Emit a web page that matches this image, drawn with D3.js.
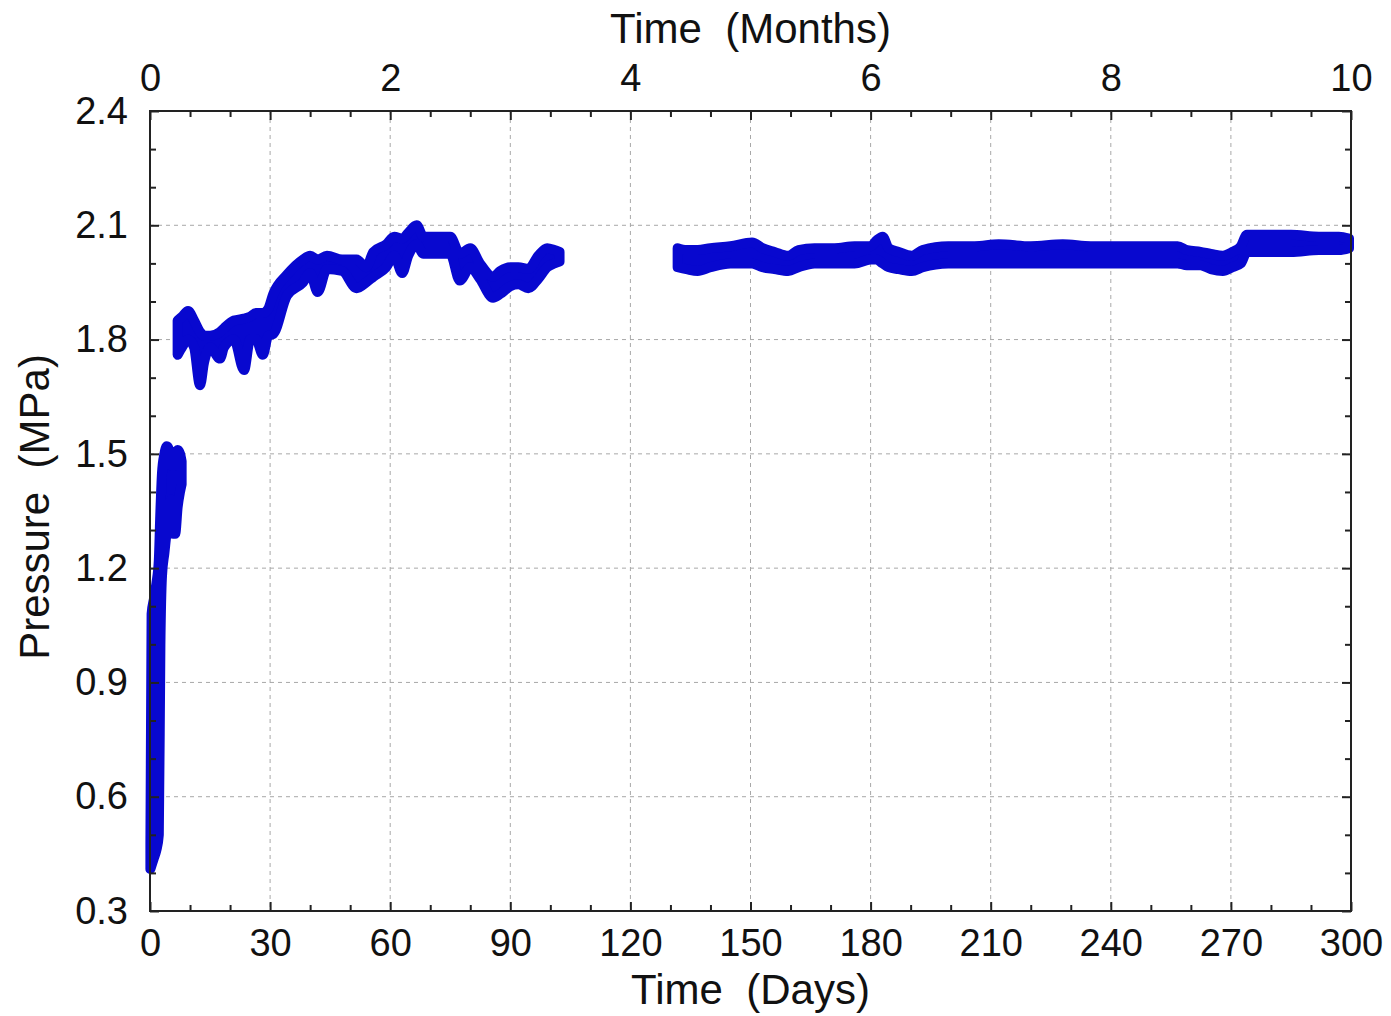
<!DOCTYPE html>
<html>
<head>
<meta charset="utf-8">
<script src="https://cdn.jsdelivr.net/npm/d3@7"></script>
<style>
  body { margin: 0; background: #fff; }
  svg { display: block; font-family: "Liberation Sans", Arial, sans-serif; }
  .lbl text { font-size: 38px; fill: #111; }
  .title { font-size: 42px; fill: #111; white-space: pre; }
</style>
</head>
<body>
<div id="chart"></div>
<script>
// tick labels
var dayTicks = [0, 30, 60, 90, 120, 150, 180, 210, 240, 270, 300];
var monthTicks = [0, 2, 4, 6, 8, 10];
var pressureTicks = [0.3, 0.6, 0.9, 1.2, 1.5, 1.8, 2.1, 2.4];

// pressure record read off the picture as a band: day, lower edge, upper edge (MPa)
// first filling, days 0-8
var s1Day  = [0.1, 0.4, 1.0, 1.6, 2.2, 2.6, 3.0, 3.6, 4.2, 4.8, 5.3, 5.8, 6.3, 6.9, 7.5, 7.9];
var s1Low  = [0.41, 0.42, 0.44, 0.46, 0.50, 1.00, 1.18, 1.24, 1.30, 1.35, 1.38, 1.29, 1.29, 1.36, 1.40, 1.42];
var s1High = [0.48, 1.08, 1.12, 1.16, 1.22, 1.35, 1.45, 1.50, 1.52, 1.51, 1.47, 1.47, 1.47, 1.51, 1.50, 1.48];

// days 7-102
var s2Day  = [6.9, 8.0, 9.5, 11.0, 12.5, 13.5, 15.0, 17.5, 18.5, 21.0, 23.5, 25.0, 26.5, 28.2, 29.5, 30.8,
              34.2, 38.2, 40.0, 41.9, 44.2, 48.0, 51.6, 54.0, 55.8, 59.0, 61.0, 63.0, 64.5, 66.6, 68.3,
              71.0, 75.0, 77.4, 80.0, 82.4, 85.7, 87.5, 90.0, 92.0, 94.5, 97.0, 99.2, 101.0, 102.3];
var s2Low  = [1.76, 1.78, 1.80, 1.78, 1.68, 1.74, 1.78, 1.75, 1.78, 1.80, 1.72, 1.80, 1.80, 1.76, 1.81, 1.815,
              1.915, 1.95, 1.975, 1.925, 1.985, 1.98, 1.935, 1.95, 1.965, 1.99, 2.02, 1.975, 2.02, 2.05, 2.025,
              2.025, 2.025, 1.955, 1.99, 1.96, 1.91, 1.92, 1.94, 1.945, 1.935, 1.96, 1.99, 2.00, 2.005];
var s2High = [1.85, 1.86, 1.875, 1.85, 1.82, 1.81, 1.81, 1.82, 1.83, 1.85, 1.855, 1.86, 1.87, 1.87, 1.88, 1.92,
              1.97, 2.01, 2.02, 2.01, 2.02, 2.01, 2.01, 1.99, 2.03, 2.05, 2.07, 2.065, 2.08, 2.10, 2.07,
              2.07, 2.07, 2.025, 2.04, 2.00, 1.965, 1.98, 1.99, 1.99, 1.985, 2.02, 2.04, 2.035, 2.03];

// days 131-300
var s3Day  = [131.8, 134, 136.8, 140, 145, 150.4, 153, 156, 159.4, 162, 166, 171, 176, 180, 181.5, 183,
              184.5, 187, 190.3, 193, 199.4, 206, 212, 220, 228, 235, 243, 250, 256.7, 259, 262.4, 265,
              268, 270.4, 272.5, 274, 278, 285, 292, 297, 299.5];
var s3Low  = [1.99, 1.985, 1.98, 1.99, 2.00, 2.00, 1.99, 1.985, 1.98, 1.99, 2.00, 2.00, 2.00, 2.01, 2.01, 2.00,
              1.99, 1.985, 1.98, 1.99, 2.00, 2.00, 2.00, 2.00, 2.00, 2.00, 2.00, 2.00, 2.00, 1.995, 1.995, 1.985,
              1.98, 1.99, 2.00, 2.03, 2.03, 2.03, 2.035, 2.035, 2.04];
var s3High = [2.04, 2.035, 2.035, 2.04, 2.045, 2.055, 2.04, 2.03, 2.02, 2.035, 2.04, 2.04, 2.045, 2.045, 2.06, 2.07,
              2.04, 2.03, 2.02, 2.035, 2.045, 2.045, 2.05, 2.045, 2.05, 2.045, 2.045, 2.045, 2.045, 2.035, 2.03, 2.025,
              2.02, 2.03, 2.045, 2.075, 2.075, 2.075, 2.07, 2.07, 2.065];

var width = 1391, height = 1016;
var plotL = 150, plotR = 1351, plotT = 111, plotB = 911;

var svg = d3.select("#chart").append("svg")
    .attr("width", width)
    .attr("height", height);

var x = d3.scaleLinear().domain([0, 300]).range([plotL, plotR]);
var xMonth = d3.scaleLinear().domain([0, 10]).range([plotL, plotR]);
var y = d3.scaleLinear().domain([0.3, 2.4]).range([plotB, plotT]);

var minorDays = d3.range(0, 301, 10).filter(d => d % 30 != 0);
var minorP = d3.range(3, 25).map(d => d / 10).filter(d => Math.round(d * 10) % 3 != 0);

// grid
var grid = svg.append("g")
    .attr("stroke", "#a8a8a8")
    .attr("stroke-width", 1)
    .attr("stroke-dasharray", "4,4");
grid.selectAll(".gx").data(dayTicks.slice(1, -1)).enter().append("line")
    .attr("x1", d => x(d)).attr("x2", d => x(d))
    .attr("y1", plotT).attr("y2", plotB);
grid.selectAll(".gy").data(pressureTicks.slice(1, -1)).enter().append("line")
    .attr("x1", plotL).attr("x2", plotR)
    .attr("y1", d => y(d)).attr("y2", d => y(d));

// data band
var area = d3.area()
    .x(d => x(d.day))
    .y0(d => y(d.low))
    .y1(d => y(d.high))
    .curve(d3.curveMonotoneX);

function band(days, lows, highs) {
    return days.map((d, i) => ({day: d, low: lows[i], high: highs[i]}));
}

var segments = [band(s1Day, s1Low, s1High), band(s2Day, s2Low, s2High), band(s3Day, s3Low, s3High)];

svg.append("g").selectAll("path").data(segments).enter().append("path")
    .attr("d", d => area(d))
    .attr("fill", "#0808cf")
    .attr("stroke", "#0808cf")
    .attr("stroke-width", 10)
    .attr("stroke-linejoin", "round");

// axes
function styleAxis(g) {
    g.select(".domain").remove();
    g.selectAll("line").attr("stroke", "#222").attr("stroke-width", 2);
}

svg.append("g").attr("class", "lbl")
    .attr("transform", "translate(0," + plotB + ")")
    .call(d3.axisBottom(x).tickValues(dayTicks).tickSize(-9).tickPadding(18))
    .call(styleAxis);
svg.append("g")
    .attr("transform", "translate(0," + plotB + ")")
    .call(d3.axisBottom(x).tickValues(minorDays).tickFormat("").tickSize(-6))
    .call(styleAxis);

svg.append("g")
    .attr("transform", "translate(0," + plotT + ")")
    .call(d3.axisTop(x).tickValues(dayTicks).tickFormat("").tickSize(-9))
    .call(styleAxis);
svg.append("g")
    .attr("transform", "translate(0," + plotT + ")")
    .call(d3.axisTop(x).tickValues(minorDays).tickFormat("").tickSize(-6))
    .call(styleAxis);
svg.append("g").attr("class", "lbl")
    .attr("transform", "translate(0," + plotT + ")")
    .call(d3.axisTop(xMonth).tickValues(monthTicks).tickSize(0).tickPadding(20))
    .call(styleAxis);

svg.append("g").attr("class", "lbl")
    .attr("transform", "translate(" + plotL + ",0)")
    .call(d3.axisLeft(y).tickValues(pressureTicks).tickFormat(d3.format(".1f")).tickSize(-9).tickPadding(22))
    .call(styleAxis);
svg.append("g")
    .attr("transform", "translate(" + plotL + ",0)")
    .call(d3.axisLeft(y).tickValues(minorP).tickFormat("").tickSize(-6))
    .call(styleAxis);
svg.append("g")
    .attr("transform", "translate(" + plotR + ",0)")
    .call(d3.axisRight(y).tickValues(pressureTicks).tickFormat("").tickSize(-9))
    .call(styleAxis);
svg.append("g")
    .attr("transform", "translate(" + plotR + ",0)")
    .call(d3.axisRight(y).tickValues(minorP).tickFormat("").tickSize(-6))
    .call(styleAxis);

svg.selectAll(".lbl").attr("font-family", null).attr("font-size", null);

// frame
svg.append("rect")
    .attr("x", plotL).attr("y", plotT)
    .attr("width", plotR - plotL).attr("height", plotB - plotT)
    .attr("fill", "none")
    .attr("stroke", "#222")
    .attr("stroke-width", 2);

// titles
svg.append("text").attr("class", "title")
    .attr("x", (plotL + plotR) / 2).attr("y", 1004)
    .attr("text-anchor", "middle")
    .text("Time  (Days)");
svg.append("text").attr("class", "title")
    .attr("x", (plotL + plotR) / 2).attr("y", 43)
    .attr("text-anchor", "middle")
    .text("Time  (Months)");
svg.append("text").attr("class", "title")
    .attr("transform", "translate(49,507) rotate(-90)")
    .attr("text-anchor", "middle")
    .text("Pressure  (MPa)");
</script>
</body>
</html>
